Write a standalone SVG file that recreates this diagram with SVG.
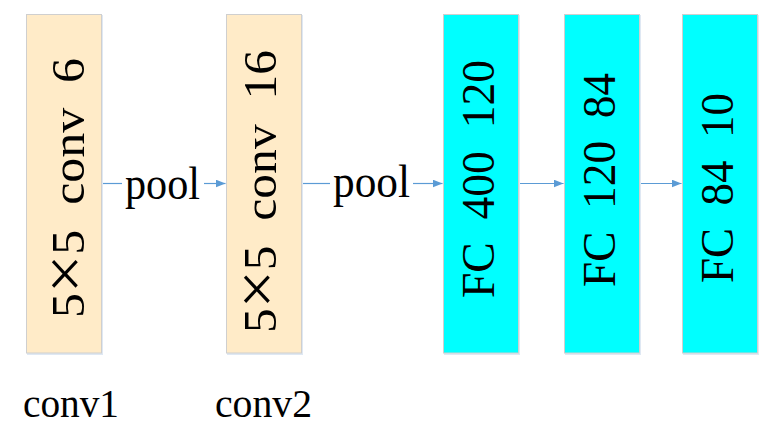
<svg xmlns="http://www.w3.org/2000/svg" width="771" height="444" viewBox="0 0 771 444">
<style>
.box{stroke:#cfcfcf;stroke-width:1}
.conv{fill:#ffebc8}
.fc{fill:#00ffff}
.shadow{fill:#dfe8f3}
.t{font-family:"Liberation Serif","Times New Roman",serif;fill:#000;white-space:pre}
.x{font-size:64px}
.conn{stroke:#5b9bd5;stroke-width:1.2;fill:none}
</style>
<defs>
<marker id="ah" markerWidth="10" markerHeight="8" refX="10" refY="4" orient="auto" markerUnits="userSpaceOnUse">
<path d="M0,0 L10,4 L0,8 z" fill="#5b9bd5"/>
</marker>
</defs>
<rect width="771" height="444" fill="#fff"/>
<g id="connectors">
<line class="conn" x1="101" y1="183.5" x2="122" y2="183.5"/>
<line class="conn" x1="204" y1="183.5" x2="225.5" y2="183.5" marker-end="url(#ah)"/>
<line class="conn" x1="301.5" y1="183.5" x2="330" y2="183.5"/>
<line class="conn" x1="413" y1="183.5" x2="442.5" y2="183.5" marker-end="url(#ah)"/>
<line class="conn" x1="518.5" y1="183.5" x2="563.5" y2="183.5" marker-end="url(#ah)"/>
<line class="conn" x1="639.5" y1="183.5" x2="681.5" y2="183.5" marker-end="url(#ah)"/>
<text class="t" x="125" y="199" font-size="47" textLength="75" lengthAdjust="spacingAndGlyphs">pool</text>
<text class="t" x="333" y="197" font-size="47" textLength="77" lengthAdjust="spacingAndGlyphs">pool</text>
</g>
<g id="conv1">
<rect class="shadow" x="27" y="15" width="76" height="340"/>
<rect class="box conv" x="26.5" y="14.5" width="75" height="338.5"/>
<text class="t" transform="translate(84,318) rotate(-90)" font-size="47" textLength="260" lengthAdjust="spacingAndGlyphs">5<tspan class="x" dy="2">×</tspan><tspan dy="-2">5  conv  6</tspan></text>
<text class="t" x="23" y="417" font-size="40" textLength="96" lengthAdjust="spacingAndGlyphs">conv1</text>
</g>
<g id="conv2">
<rect class="shadow" x="227" y="15" width="76" height="340"/>
<rect class="box conv" x="226.5" y="14.5" width="75" height="338.5"/>
<text class="t" transform="translate(276,333) rotate(-90)" font-size="47" textLength="283" lengthAdjust="spacingAndGlyphs">5<tspan class="x" dy="2">×</tspan><tspan dy="-2">5  conv  16</tspan></text>
<text class="t" x="215" y="417" font-size="40" textLength="97" lengthAdjust="spacingAndGlyphs">conv2</text>
</g>
<g id="fc1">
<rect class="shadow" x="444" y="15" width="76" height="340"/>
<rect class="box fc" x="443.5" y="14.5" width="75" height="338.5"/>
<text class="t" transform="translate(494,298) rotate(-90)" font-size="47" textLength="238" lengthAdjust="spacingAndGlyphs">FC  400  120</text>
</g>
<g id="fc2">
<rect class="shadow" x="565" y="15" width="76" height="340"/>
<rect class="box fc" x="564.5" y="14.5" width="75" height="338.5"/>
<text class="t" transform="translate(615,287) rotate(-90)" font-size="47" textLength="214" lengthAdjust="spacingAndGlyphs">FC  120  84</text>
</g>
<g id="fc3">
<rect class="shadow" x="683" y="15" width="76" height="340"/>
<rect class="box fc" x="682.5" y="14.5" width="75" height="338.5"/>
<text class="t" transform="translate(733,283) rotate(-90)" font-size="47" textLength="190" lengthAdjust="spacingAndGlyphs">FC  84  10</text>
</g>
</svg>
